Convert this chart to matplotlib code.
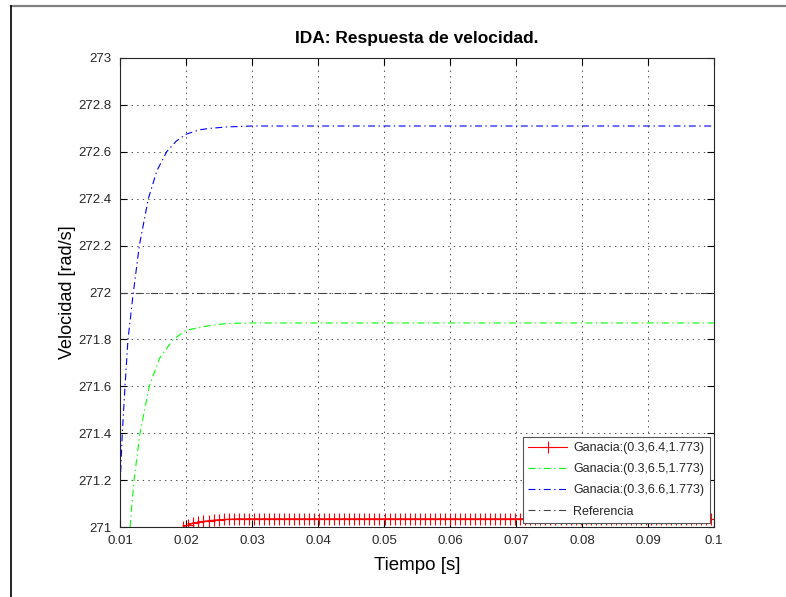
import numpy as np
import matplotlib
matplotlib.use("Agg")
import matplotlib.pyplot as plt
from matplotlib.lines import Line2D

plt.rcParams['font.family'] = ['Liberation Sans', 'DejaVu Sans']
plt.rcParams['lines.scale_dashes'] = False

# Ganancia (0.3,6.6,1.773) - blue
blue_t = [0.0100, 0.01035, 0.01076, 0.01121, 0.01202, 0.01293, 0.01429,
          0.01560, 0.01707, 0.0185, 0.0200, 0.0221, 0.0236, 0.0262, 0.0300, 0.1000]
blue_v = [271.17, 271.40, 271.60, 271.80, 272.00, 272.20, 272.40,
          272.52, 272.60, 272.645, 272.675, 272.694, 272.700, 272.706, 272.71, 272.71]

# Ganancia (0.3,6.5,1.773) - green
green_t = [0.01152, 0.01212, 0.01303, 0.01444, 0.0160, 0.01808, 0.0200,
           0.0236, 0.0262, 0.0300, 0.1000]
green_v = [271.00, 271.20, 271.40, 271.60, 271.72, 271.80, 271.839,
           271.859, 271.868, 271.87, 271.87]

# Ganancia (0.3,6.4,1.773) - red, sampled
red_v = [271.000, 271.009, 271.016, 271.021, 271.024, 271.027, 271.029,
         271.031, 271.032, 271.033, 271.034] + [271.035] * 95
red_t = np.linspace(0.0196, 0.0996, len(red_v))

# Referencia
ref_t = [0.01, 0.1]
ref_v = [272.0, 272.0]

xticks = [0.01, 0.02, 0.03, 0.04, 0.05, 0.06, 0.07, 0.08, 0.09, 0.1]
xlabels = ['0.01', '0.02', '0.03', '0.04', '0.05', '0.06', '0.07', '0.08', '0.09', '0.1']
yticks = [271, 271.2, 271.4, 271.6, 271.8, 272, 272.2, 272.4, 272.6, 272.8, 273]
ylabels = ['271', '271.2', '271.4', '271.6', '271.8', '272', '272.2', '272.4',
           '272.6', '272.8', '273']

fig = plt.figure(figsize=(7.86, 5.97), dpi=100, facecolor='white')
ax = fig.add_axes([120/786, 70/597, 594/786, 469/597])

dashdot = (0, (5, 2.5, 1, 2.5))
ax.plot(red_t, red_v, color='#ff0000', lw=0.8, marker='+', ms=8, mew=0.8,
        label='Ganacia:(0.3,6.4,1.773)')
ax.plot(green_t, green_v, color='#00ff00', lw=0.8, linestyle=dashdot,
        label='Ganacia:(0.3,6.5,1.773)')
ax.plot(blue_t, blue_v, color='#0000ff', lw=0.8, linestyle=dashdot,
        label='Ganacia:(0.3,6.6,1.773)')
ax.plot(ref_t, ref_v, color='#444444', lw=0.8, linestyle=dashdot,
        label='Referencia')

ax.set_xlim(0.01, 0.1)
ax.set_ylim(271, 273)
ax.set_xticks(xticks)
ax.set_xticklabels(xlabels)
ax.set_yticks(yticks)
ax.set_yticklabels(ylabels)

ax.grid(True, color='#333333', linestyle=(0, (1, 3)), linewidth=0.6)
ax.tick_params(direction='in', length=5, width=0.8, top=True, right=True,
               labelsize=9.5, labelcolor='#262626', pad=6)
for s in ax.spines.values():
    s.set_linewidth(0.8)
    s.set_color('#262626')

ax.set_title('IDA: Respuesta de velocidad.', fontsize=12.5, fontweight='bold', pad=11)
ax.set_xlabel('Tiempo [s]', fontsize=13.5, labelpad=7)
ax.set_ylabel('Velocidad [rad/s]', fontsize=13, labelpad=2)

leg = ax.legend(loc='lower right', bbox_to_anchor=(0.993, 0.008), borderaxespad=0,
                fontsize=9, fancybox=False, framealpha=1, handlelength=3.1,
                handletextpad=0.5, labelspacing=0.73, borderpad=0.45)
leg.get_frame().set_edgecolor('#555555')
leg.get_frame().set_linewidth(0.8)
for t in leg.get_texts():
    t.set_color('#262626')

# window frame lines
fig.add_artist(Line2D([11/786, 1], [1 - 6/597, 1 - 6/597], color='#808080', lw=1.6,
                      transform=fig.transFigure))
fig.add_artist(Line2D([11/786, 11/786], [0, 1 - 6/597], color='black', lw=1.2,
                      transform=fig.transFigure))

fig.savefig('out.png', dpi=100, facecolor='white')
